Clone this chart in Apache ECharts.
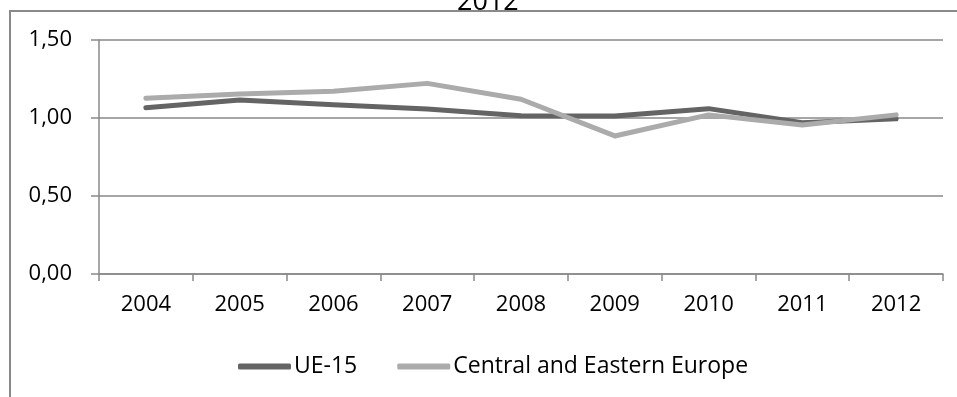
<!DOCTYPE html>
<html>
<head>
<meta charset="utf-8">
<script src="https://cdn.jsdelivr.net/npm/echarts@6/dist/echarts.min.js"></script>
<style>
  html, body { margin: 0; padding: 0; background: #fff; }
  #chart { width: 957px; height: 397px; }
</style>
</head>
<body>
<div id="chart"></div>
<script>
// data
const years = ['2004', '2005', '2006', '2007', '2008', '2009', '2010', '2011', '2012'];
const ue15 = [1.066, 1.115, 1.085, 1.058, 1.015, 1.013, 1.06, 0.97, 0.995];
const cee = [1.126, 1.154, 1.172, 1.222, 1.12, 0.885, 1.02, 0.955, 1.02];
const yTicks = [0, 0.5, 1, 1.5];

const font = '"Open Sans", sans-serif';
const axisGrey = '#898989';

const chart = echarts.init(document.getElementById('chart'));

chart.setOption({
    animation: false,
    backgroundColor: '#fff',
    title: {
        text: '2012',
        left: 457,
        top: -11,
        padding: 0,
        textStyle: { fontFamily: font, fontSize: 27, fontWeight: 'normal', color: '#000' }
    },
    // outer chart-area border (cut off on the right and bottom)
    graphic: [{
        type: 'rect',
        shape: { x: 10, y: 11, width: 1000, height: 500 },
        style: { fill: 'none', stroke: axisGrey, lineWidth: 2 },
        silent: true
    }],
    grid: { left: 99, right: 14, top: 40, bottom: 123 },
    legend: {
        left: 233,
        top: 350,
        itemWidth: 53,
        itemHeight: 6,
        itemGap: 40,
        icon: 'roundRect',
        textStyle: { fontFamily: font, fontSize: 23, color: '#000', padding: [0, 0, 0, -2] },
        data: ['UE-15', 'Central and Eastern Europe']
    },
    xAxis: {
        type: 'category',
        data: years,
        boundaryGap: true,
        axisLine: { lineStyle: { color: axisGrey, width: 1.5 } },
        axisTick: { show: true, length: 7, lineStyle: { color: axisGrey, width: 1.5 } },
        axisLabel: { margin: 20, fontFamily: font, fontSize: 22, color: '#000' }
    },
    yAxis: {
        type: 'value',
        min: yTicks[0],
        max: yTicks[yTicks.length - 1],
        interval: yTicks[1] - yTicks[0],
        axisLine: { show: true, lineStyle: { color: axisGrey, width: 1.5 } },
        axisTick: { show: true, length: 8, lineStyle: { color: axisGrey, width: 1.5 } },
        splitLine: { lineStyle: { color: axisGrey, width: 1.5 } },
        axisLabel: {
            margin: 27,
            fontFamily: font,
            fontSize: 22,
            color: '#000',
            formatter: v => v.toFixed(2).replace('.', ',')
        }
    },
    series: [
        {
            name: 'UE-15',
            type: 'line',
            data: ue15,
            symbol: 'none',
            itemStyle: { color: '#646464' },
            lineStyle: { color: '#646464', width: 5, cap: 'round', join: 'round' }
        },
        {
            name: 'Central and Eastern Europe',
            type: 'line',
            data: cee,
            symbol: 'none',
            itemStyle: { color: '#ababab' },
            lineStyle: { color: '#ababab', width: 5, cap: 'round', join: 'round' }
        }
    ]
});
</script>
</body>
</html>
